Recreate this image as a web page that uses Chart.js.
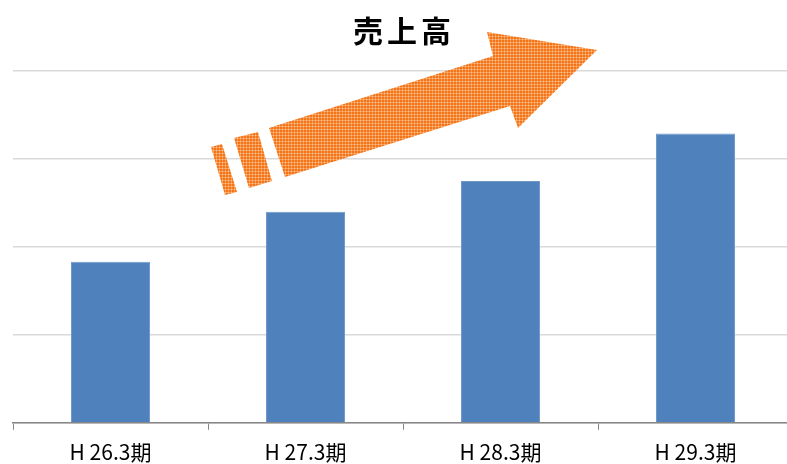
<!DOCTYPE html>
<html><head><meta charset="UTF-8">
<title>売上高</title>
<style>
* { margin: 0; padding: 0; box-sizing: border-box; }
body { background: #ffffff; width: 787px; height: 464px; overflow: hidden; }
.wrap { position: relative; width: 806px; height: 475px; }
</style>
<script src="https://cdn.jsdelivr.net/npm/chart.js"></script>
</head>
<body>
<div class="wrap"><canvas id="salesChart"></canvas></div>
<script>
const periods = ['H 26.3期', 'H 27.3期', 'H 28.3期', 'H 29.3期'];
const sales = [183, 240, 275, 329];
const axisMax = 400;
const axisStep = 100;
const titleText = '売上高';

// dotted orange fill for the trend arrow
function arrowPattern(ctx) {
  const tile = document.createElement('canvas');
  tile.width = 3; tile.height = 3;
  const t = tile.getContext('2d');
  t.fillStyle = '#f47418';
  t.fillRect(0, 0, 3, 3);
  t.fillStyle = '#f99a55';
  t.fillRect(0, 0, 3, 1);
  t.fillRect(0, 0, 1, 3);
  t.fillStyle = '#fcc190';
  t.fillRect(0, 0, 1, 1);
  return ctx.createPattern(tile, 'repeat');
}

function poly(ctx, pts) {
  ctx.beginPath();
  ctx.moveTo(pts[0][0], pts[0][1]);
  for (let i = 1; i < pts.length; i++) ctx.lineTo(pts[i][0], pts[i][1]);
  ctx.closePath();
  ctx.fill();
}

const decor = {
  id: 'decor',
  afterDraw(chart) {
    const ctx = chart.ctx;
    const a = chart.chartArea;
    ctx.save();
    // heading centred over the plot, characters spaced out
    ctx.fillStyle = '#000000';
    ctx.font = 'bold 30px "Noto Sans CJK JP", sans-serif';
    ctx.textAlign = 'center';
    ctx.textBaseline = 'middle';
    const cx = (a.left + a.right) / 2 - 1;
    const chars = Array.from(titleText);
    chars.forEach((ch, i) => {
      ctx.fillText(ch, cx + (i - (chars.length - 1) / 2) * 34, 31);
    });

    // rising arrow with two broken tail stripes
    ctx.fillStyle = arrowPattern(ctx);
    poly(ctx, [[269, 128], [493, 56], [487, 32], [597, 50], [518, 128], [510, 106], [285, 177]]);
    poly(ctx, [[234, 138], [258, 132], [272, 181], [249, 188]]);
    poly(ctx, [[211, 147], [222, 144], [237, 192], [225, 195]]);
    ctx.restore();
  }
};

new Chart(document.getElementById('salesChart'), {
  type: 'bar',
  data: {
    labels: periods,
    datasets: [{
      data: sales,
      backgroundColor: '#4f81bd',
      borderColor: '#6f98c9',
      borderWidth: 1,
      barPercentage: 0.405,
      categoryPercentage: 1.0
    }]
  },
  options: {
    responsive: true,
    maintainAspectRatio: false,
    animation: false,
    layout: { padding: { top: 71, left: 13, right: 13, bottom: 0 } },
    plugins: {
      legend: { display: false },
      tooltip: { enabled: false },
      title: { display: false }
    },
    scales: {
      x: {
        grid: {
          offset: true,
          drawOnChartArea: false,
          drawTicks: true,
          tickLength: 7,
          color: '#868686'
        },
        border: { color: '#868686', width: 1.5 },
        ticks: {
          color: '#000000',
          padding: 10,
          font: { family: '"Noto Sans CJK JP", sans-serif', size: 21 }
        }
      },
      y: {
        min: 0,
        max: axisMax,
        ticks: { display: false, stepSize: axisStep },
        grid: { color: '#d9d9d9', lineWidth: 1.5, drawTicks: false },
        border: { display: false }
      }
    }
  },
  plugins: [decor]
});
</script>
</body></html>
